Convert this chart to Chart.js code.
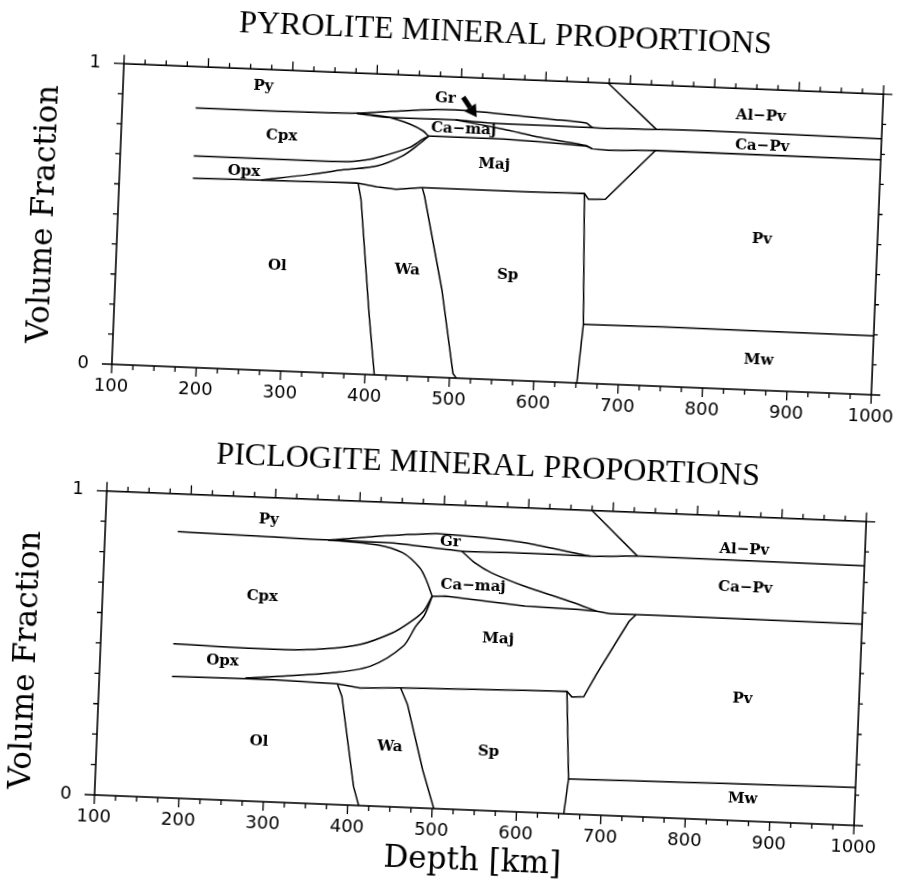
<!DOCTYPE html>
<html><head><meta charset="utf-8">
<script src="https://cdn.jsdelivr.net/npm/chart.js@4.4.0/dist/chart.umd.min.js"></script>
<style>
html,body{margin:0;padding:0;background:#fff;width:904px;height:884px;overflow:hidden;}
#wrap{position:absolute;left:0;top:0;width:904px;height:884px;transform:rotate(2.3deg);transform-origin:452px 442px;background:#fff;}
canvas{display:block;}
</style></head><body>
<div id="wrap"><canvas id="c1" width="904" height="442"></canvas><canvas id="c2" width="904" height="442"></canvas></div>
<script>
// ---------- axis ticks ----------
const depthTickLabels = [100,200,300,400,500,600,700,800,900,1000];
const fractionTickLabels = [0,1];

// ---------- PYROLITE (top panel) boundaries: depth [km] / cumulative volume fraction ----------
const pyrPyBottomDepth = [187, 285, 378, 430, 471, 506, 568, 612, 650, 658, 731, 790, 1000];
const pyrPyBottomFrac  = [0.863, 0.863, 0.867, 0.880, 0.889, 0.890, 0.880, 0.872, 0.864, 0.850, 0.853, 0.855, 0.852];
const pyrGrBottomDepth = [378, 410, 450, 495, 535, 580, 615, 658];
const pyrGrBottomFrac  = [0.866, 0.858, 0.857, 0.858, 0.852, 0.851, 0.851, 0.850];
const pyrCpxTopDepth   = [378, 386, 417, 441, 457, 464];
const pyrCpxTopFrac    = [0.866, 0.865, 0.857, 0.838, 0.817, 0.800];
const pyrCaMajBottomDepth = [464, 505, 553, 603, 651, 658, 678, 733, 1000];
const pyrCaMajBottomFrac  = [0.800, 0.800, 0.800, 0.795, 0.788, 0.780, 0.777, 0.783, 0.782];
const pyrCaPvTopDepth  = [495, 553, 596, 651, 658];
const pyrCaPvTopFrac   = [0.858, 0.833, 0.811, 0.790, 0.780];
const pyrCpxBottomDepth = [187, 365, 390, 411, 442, 457, 464];
const pyrCpxBottomFrac  = [0.703, 0.704, 0.712, 0.728, 0.760, 0.789, 0.800];
const pyrOpxBottomDepth = [268, 326, 365, 404, 434, 453, 464];
const pyrOpxBottomFrac  = [0.632, 0.657, 0.677, 0.694, 0.731, 0.772, 0.800];
const pyrOlTopDepth = [187, 381, 405, 428, 459, 583, 651, 656, 676, 733];
const pyrOlTopFrac  = [0.629, 0.635, 0.625, 0.619, 0.628, 0.628, 0.631, 0.612, 0.614, 0.783];
const pyrOlWaDepth = [383, 387, 402, 411];
const pyrOlWaFrac  = [0.632, 0.580, 0.200, 0.000];
const pyrWaSpDepth = [459, 462, 487, 504, 508];
const pyrWaSpFrac  = [0.627, 0.600, 0.291, 0.015, 0.000];
const pyrSpPvDepth = [651, 656, 651];
const pyrSpPvFrac  = [0.000, 0.195, 0.631];
const pyrMwTopDepth = [656, 750, 1000];
const pyrMwTopFrac  = [0.195, 0.198, 0.196];
const pyrAlPvDepth = [674, 733];
const pyrAlPvFrac  = [1.000, 0.853];
const pyrLabelText  = ['Py','Gr','Cpx','Opx','Ca\u2212maj','Maj','Al\u2212Pv','Ca\u2212Pv','Pv','Mw','Ol','Wa','Sp'];
const pyrLabelDepth = [266, 482, 290, 247, 505, 543, 856, 859, 863, 865, 291, 445, 564];
const pyrLabelFrac  = [0.943, 0.926, 0.780, 0.658, 0.828, 0.716, 0.910, 0.810, 0.503, 0.100, 0.350, 0.353, 0.350];
const pyrArrowDepth = [503, 520];
const pyrArrowFrac  = [0.934, 0.869];

// ---------- PICLOGITE (bottom panel) ----------
const picPyBottomDepth = [186, 280, 364, 422, 491, 538, 597, 655, 675, 733, 1000];
const picPyBottomFrac  = [0.876, 0.872, 0.869, 0.887, 0.903, 0.898, 0.885, 0.859, 0.850, 0.856, 0.854];
const picGrBottomDepth = [364, 441, 523, 597, 675];
const picGrBottomFrac  = [0.869, 0.867, 0.849, 0.851, 0.850];
const picCpxTopDepth   = [364, 422, 453, 474, 482, 490];
const picCpxTopFrac    = [0.869, 0.859, 0.836, 0.789, 0.751, 0.697];
const picCaMajBottomDepth = [490, 506, 600, 662, 685, 701, 751, 1000];
const picCaMajBottomFrac  = [0.697, 0.699, 0.677, 0.673, 0.670, 0.663, 0.664, 0.662];
const picCaPvTopDepth  = [523, 539, 559, 599, 655, 685];
const picCaPvTopFrac   = [0.849, 0.812, 0.782, 0.742, 0.697, 0.670];
const picCpxBottomDepth = [186, 318, 365, 407, 445, 464, 480, 490];
const picCpxBottomFrac  = [0.507, 0.502, 0.510, 0.529, 0.572, 0.607, 0.645, 0.697];
const picOpxBottomDepth = [273, 370, 420, 458, 472, 482, 490];
const picOpxBottomFrac  = [0.404, 0.431, 0.459, 0.529, 0.596, 0.635, 0.697];
const picOlTopDepth = [186, 296, 382, 409, 456, 603, 654, 660, 674, 688, 724, 732];
const picOlTopFrac  = [0.399, 0.403, 0.397, 0.386, 0.392, 0.400, 0.403, 0.385, 0.387, 0.462, 0.640, 0.663];
const picOlWaDepth = [382, 388, 406, 413];
const picOlWaFrac  = [0.397, 0.356, 0.062, 0.000];
const picWaSpDepth = [457, 466, 487, 502];
const picWaSpFrac  = [0.392, 0.338, 0.126, 0.000];
const picSpPvDepth = [656, 660, 654];
const picSpPvFrac  = [0.000, 0.115, 0.403];
const picMwTopDepth = [660, 844, 1000];
const picMwTopFrac  = [0.115, 0.121, 0.125];
const picAlPvDepth = [675, 731];
const picAlPvFrac  = [1.000, 0.856];
const picLabelText  = ['Py','Gr','Cpx','Opx','Ca\u2212maj','Maj','Al\u2212Pv','Ca\u2212Pv','Pv','Mw','Ol','Wa','Sp'];
const picLabelDepth = [293, 509, 289, 245, 538, 570, 857, 860, 862, 867, 292, 447, 564];
const picLabelFrac  = [0.927, 0.877, 0.674, 0.455, 0.735, 0.564, 0.892, 0.767, 0.400, 0.071, 0.197, 0.198, 0.195];

// ---------- helpers ----------
function pts(d, f){ return d.map((v,i)=>({x:v, y:f[i]})); }
function ds(d, f, tension){
  return {data: pts(d,f), borderColor:'#000', borderWidth:1.5, pointRadius:0, fill:false, tension: tension||0, clip:false};
}

const frameTicks = {
  id:'frameTicks',
  afterDatasetsDraw(chart, args, opts){
    const ctx = chart.ctx, a = chart.chartArea, x = chart.scales.x, y = chart.scales.y;
    ctx.save();
    ctx.strokeStyle = '#000';
    ctx.lineWidth = 1.6;
    ctx.strokeRect(a.left, a.top, a.right - a.left, a.bottom - a.top);
    ctx.lineWidth = 1.3;
    ctx.beginPath();
    for (let v = 100; v <= 1000; v += 25){
      const px = x.getPixelForValue(v), len = (v % 100 === 0) ? 9 : 5;
      ctx.moveTo(px, a.bottom); ctx.lineTo(px, a.bottom + len);
      ctx.moveTo(px, a.top); ctx.lineTo(px, a.top - len);
    }
    for (let i = 0; i <= 10; i++){
      const py = y.getPixelForValue(i / 10), len = (i === 0 || i === 10) ? 10 : 5;
      ctx.moveTo(a.left, py); ctx.lineTo(a.left - len, py);
      ctx.moveTo(a.right, py); ctx.lineTo(a.right + len - 1, py);
    }
    ctx.stroke();
    // region labels
    ctx.fillStyle = '#000';
    ctx.font = 'bold 15px "DejaVu Serif"';
    ctx.textAlign = 'center';
    ctx.textBaseline = 'middle';
    opts.text.forEach((t, i) => {
      ctx.fillText(t, x.getPixelForValue(opts.depth[i]), y.getPixelForValue(opts.frac[i]));
    });
    // arrow
    if (opts.arrowDepth){
      const x0 = x.getPixelForValue(opts.arrowDepth[0]), y0 = y.getPixelForValue(opts.arrowFrac[0]);
      const x1 = x.getPixelForValue(opts.arrowDepth[1]), y1 = y.getPixelForValue(opts.arrowFrac[1]);
      const ang = Math.atan2(y1 - y0, x1 - x0);
      const hl = 12, hw = 7;
      const bx = x1 - hl * Math.cos(ang), by = y1 - hl * Math.sin(ang);
      ctx.lineWidth = 5;
      ctx.beginPath(); ctx.moveTo(x0, y0); ctx.lineTo(bx, by); ctx.stroke();
      ctx.beginPath();
      ctx.moveTo(x1, y1);
      ctx.lineTo(bx + hw * Math.sin(ang), by - hw * Math.cos(ang));
      ctx.lineTo(bx - hw * Math.sin(ang), by + hw * Math.cos(ang));
      ctx.closePath(); ctx.fill();
    }
    // y-axis title
    ctx.save();
    ctx.translate(36, (a.top + a.bottom) / 2 + opts.yTitleShift);
    ctx.rotate(-Math.PI / 2);
    ctx.font = '31px "DejaVu Serif"';
    ctx.textAlign = 'center';
    ctx.textBaseline = 'middle';
    ctx.fillText('Volume Fraction', 0, 0);
    ctx.restore();
    ctx.restore();
  }
};

function makeChart(id, cfg){
  const datasets = cfg.lines.map(l => ds(l[0], l[1], l[2]));
  return new Chart(document.getElementById(id), {
    type:'line',
    data:{datasets},
    options:{
      responsive:false, animation:false, devicePixelRatio:1, events:[],
      layout:{padding:{left:0, right:23, top:0, bottom:0}},
      plugins:{
        legend:{display:false}, tooltip:{enabled:false},
        title:{display:true, fullSize:false, text:cfg.title, color:'#000',
          font:{family:'"Liberation Serif"', size:32, weight:'normal', lineHeight:1.2},
          padding:{top:cfg.titleTop, bottom:cfg.titleBottom}},
        frameTicks:{text:cfg.labelText, depth:cfg.labelDepth, frac:cfg.labelFrac,
          arrowDepth:cfg.arrowDepth, arrowFrac:cfg.arrowFrac, yTitleShift:cfg.yTitleShift}
      },
      scales:{
        x:{type:'linear', min:100, max:1000,
          grid:{display:false, drawTicks:false}, border:{display:false},
          afterBuildTicks: s => { s.ticks = depthTickLabels.map(v => ({value:v})); },
          ticks:{autoSkip:false, maxRotation:0, minRotation:0, padding:12, color:'#000',
            font:{family:'"DejaVu Sans"', size:18}, callback: v => String(v)},
          title:{display:!!cfg.xTitle, text:cfg.xTitle || '', color:'#000',
            font:{family:'"DejaVu Serif"', size:31, lineHeight:1.2}, padding:{top:0, bottom:4}},
          afterFit: s => { s.height = cfg.xHeight; }
        },
        y:{type:'linear', min:0, max:1,
          grid:{display:false, drawTicks:false}, border:{display:false},
          afterBuildTicks: s => { s.ticks = fractionTickLabels.map(v => ({value:v})); },
          ticks:{padding:23, color:'#000', font:{family:'"DejaVu Sans"', size:18}, callback: v => String(v)},
          title:{display:false},
          afterFit: s => { s.width = 109; }
        }
      }
    },
    plugins:[frameTicks]
  });
}

makeChart('c1', {
  title:'PYROLITE MINERAL PROPORTIONS', titleTop:13.4, titleBottom:25.4, xHeight:64, xTitle:null, yTitleShift:3,
  lines:[
    [pyrPyBottomDepth, pyrPyBottomFrac, 0.2],
    [pyrGrBottomDepth, pyrGrBottomFrac, 0.1],
    [pyrCpxTopDepth, pyrCpxTopFrac, 0.3],
    [pyrCaMajBottomDepth, pyrCaMajBottomFrac, 0],
    [pyrCaPvTopDepth, pyrCaPvTopFrac, 0.2],
    [pyrCpxBottomDepth, pyrCpxBottomFrac, 0.3],
    [pyrOpxBottomDepth, pyrOpxBottomFrac, 0.3],
    [pyrOlTopDepth, pyrOlTopFrac, 0],
    [pyrOlWaDepth, pyrOlWaFrac, 0],
    [pyrWaSpDepth, pyrWaSpFrac, 0],
    [pyrSpPvDepth, pyrSpPvFrac, 0],
    [pyrMwTopDepth, pyrMwTopFrac, 0],
    [pyrAlPvDepth, pyrAlPvFrac, 0]
  ],
  labelText:pyrLabelText, labelDepth:pyrLabelDepth, labelFrac:pyrLabelFrac,
  arrowDepth:pyrArrowDepth, arrowFrac:pyrArrowFrac
});

makeChart('c2', {
  title:'PICLOGITE MINERAL PROPORTIONS', titleTop:3.4, titleBottom:21.0, xHeight:75, xTitle:'Depth [km]', yTitleShift:20,
  lines:[
    [picPyBottomDepth, picPyBottomFrac, 0.2],
    [picGrBottomDepth, picGrBottomFrac, 0.1],
    [picCpxTopDepth, picCpxTopFrac, 0.3],
    [picCaMajBottomDepth, picCaMajBottomFrac, 0],
    [picCaPvTopDepth, picCaPvTopFrac, 0.2],
    [picCpxBottomDepth, picCpxBottomFrac, 0.3],
    [picOpxBottomDepth, picOpxBottomFrac, 0.3],
    [picOlTopDepth, picOlTopFrac, 0],
    [picOlWaDepth, picOlWaFrac, 0],
    [picWaSpDepth, picWaSpFrac, 0],
    [picSpPvDepth, picSpPvFrac, 0],
    [picMwTopDepth, picMwTopFrac, 0],
    [picAlPvDepth, picAlPvFrac, 0]
  ],
  labelText:picLabelText, labelDepth:picLabelDepth, labelFrac:picLabelFrac,
  arrowDepth:null, arrowFrac:null
});
</script>
</body></html>
